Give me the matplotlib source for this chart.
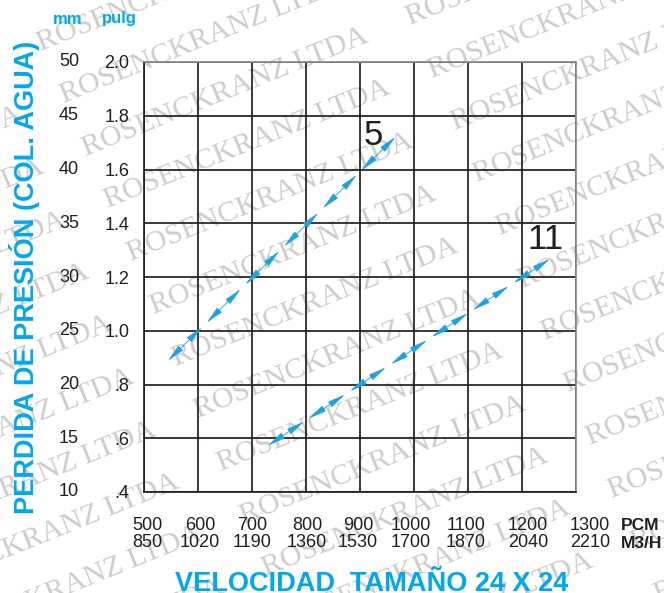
"""Pressure drop vs velocity chart, size 24 x 24 (Rosenckranz style)."""
import matplotlib
matplotlib.use("Agg")
import matplotlib.pyplot as plt

W, H = 664, 593
BLUE = '#1ba3e3'
CYAN = '#00a9ec'
INK = '#231f20'

# axis values
pcm = [500, 600, 700, 800, 900, 1000, 1100, 1200, 1300]
m3h = [850, 1020, 1190, 1360, 1530, 1700, 1870, 2040, 2210]
pulg = [0.4, 0.6, 0.8, 1.0, 1.2, 1.4, 1.6, 1.8, 2.0]
pulg_lbl = ['.4', '.6', '.8', '1.0', '1.2', '1.4', '1.6', '1.8', '2.0']
mm = [10, 15, 20, 25, 30, 35, 40, 45, 50]

# curves (start / end)
x5 = [540, 970]
y5 = [0.88, 1.73]
x11 = [725, 1256]
y11 = [0.567, 1.273]

plt.rcParams['font.family'] = ['Liberation Sans', 'DejaVu Sans']

def px(x, y):
    return x / W, 1 - y / H

fig = plt.figure(figsize=(W / 100, H / 100), dpi=100)

# watermark tiles
for i in range(-3, 4):
    for j in range(-8, 16):
        x0 = 410 + 324 * i + 22.5 * j
        y0 = 25 - 131 * i + 52.5 * j
        if x0 + 290 > 0 and x0 < W and y0 > 0 and y0 - 120 < H:
            fig.text(x0 / W, 1 - y0 / H, "ROSENCKRANZ LTDA", rotation=22,
                     rotation_mode='anchor', ha='left', va='baseline',
                     fontsize=21.5, family='Liberation Serif', color='#cdcdcd',
                     zorder=-1)

ax = fig.add_axes([144 / W, 1 - 492 / H, 432 / W, 430 / H])
ax.set_facecolor('none')
ax.set_xlim(500, 1300)
ax.set_ylim(0.4, 2.0)
ax.set_xticks(pcm)
ax.set_xticklabels([])
ax.set_yticks(pulg)
ax.set_yticklabels(pulg_lbl)
ax.tick_params(axis='both', length=0)
ax.tick_params(axis='y', pad=10.5, labelsize=13, labelcolor=INK)
ax.grid(True, color=INK, linewidth=1.25)
for s in ['left', 'bottom']:
    ax.spines[s].set_color(INK)
    ax.spines[s].set_linewidth(1.25)
for s in ['top', 'right']:
    ax.spines[s].set_color('#8a8a8a')
    ax.spines[s].set_linewidth(1.25)

# mm column
for v, m in zip(pulg, mm):
    ax.text((69 - 144) / 432, v, str(m), transform=ax.get_yaxis_transform(),
            ha='center', va='center', fontsize=13, color=INK)

# two-row x labels (small pixel nudges as in the original)
dx = [3, 2, 0, 1, -2, -3, -2, 6, 14]
for v, a, d in zip(pcm, m3h, dx):
    ax.annotate(f"{v}\n{a}", xy=(v, 0),
                xycoords=ax.get_xaxis_transform(), xytext=(d * 0.72, -18),
                textcoords='offset points', ha='center', va='top',
                fontsize=13, color=INK, linespacing=1.0)
fig.text(*px(621, 526), "PCM", ha='left', va='center', fontsize=12.5,
         fontweight='bold', color=INK)
fig.text(*px(621, 544), "M3/H", ha='left', va='center', fontsize=12.5,
         fontweight='bold', color=INK)

# dashed double-arrow curves
def dashes(xs, ys, n):
    for k in range(n):
        t0, t1 = (k + 0.06) / n, (k + 0.94) / n
        p0 = (xs[0] + t0 * (xs[1] - xs[0]), ys[0] + t0 * (ys[1] - ys[0]))
        p1 = (xs[0] + t1 * (xs[1] - xs[0]), ys[0] + t1 * (ys[1] - ys[0]))
        ax.annotate('', xy=p1, xytext=p0,
                    arrowprops=dict(arrowstyle='<|-|>,head_length=1.1,head_width=0.2',
                                    color=BLUE, lw=0.6, shrinkA=0, shrinkB=0,
                                    mutation_scale=10))

dashes(x5, y5, 6)
dashes(x11, y11, 7)
ax.text(924, 1.728, '5', fontsize=25, ha='center', va='center', color=INK)
ax.text(1244, 1.338, '11', fontsize=25, ha='center', va='center', color=INK)

# headers and titles
fig.text(*px(68, 23.5), "mm", ha='center', va='baseline', fontsize=12,
         fontweight='bold', color=CYAN)
fig.text(*px(119, 23.5), "pulg", ha='center', va='baseline', fontsize=12,
         fontweight='bold', color=CYAN)
fig.text(*px(25, 277), "PERDIDA DE PRESIÓN (COL. AGUA)", rotation=90,
         ha='center', va='center', fontsize=19.5, fontweight='bold', color=CYAN)
fig.text(*px(372, 591), "VELOCIDAD  TAMAÑO 24 X 24", ha='center', va='baseline',
         fontsize=19.5, fontweight='bold', color=CYAN)

fig.savefig("out.png", dpi=100)
